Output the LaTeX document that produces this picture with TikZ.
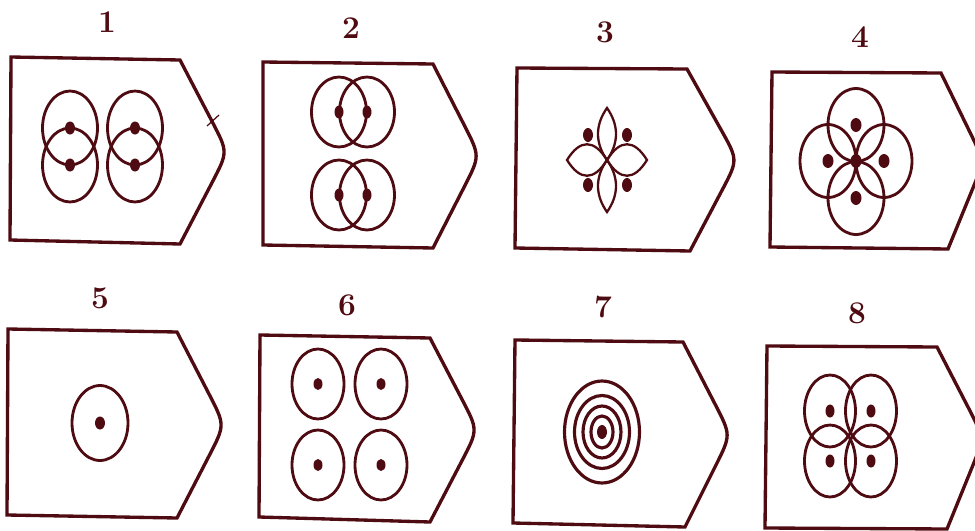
\documentclass[tikz,border=0pt]{standalone}
\usetikzlibrary{calc}
\definecolor{ink}{HTML}{4E0B11}
\tikzset{card/.style={draw=ink,line width=1.9pt,line join=miter},
ring/.style={draw=ink,line width=1.6pt},
petal/.style={draw=ink,line width=1.3pt},
pip/.style={fill=ink},
num/.style={font=\fontsize{18}{18}\selectfont\bfseries,text=ink}}

\begin{document}
\begin{tikzpicture}[x=0.02cm,y=-0.02cm]
\useasboundingbox (0,0) rectangle (975,531);
% numbers over the cards
\node[num] (n1) at (107,22) {1};
\node[num] (n2) at (351,28) {2};
\node[num] (n3) at (605,32) {3};
\node[num] (n4) at (860,37) {4};
\node[num] (n5) at (100,298) {5};
\node[num] (n6) at (347,305) {6};
\node[num] (n7) at (603,307) {7};
\node[num] (n8) at (857,313) {8};

% card outlines, top row
\draw[card] (11,57) -- (180,60) -- ($(228,152)!0.33!(180,60)$) .. controls (228,152) .. ($(228,152)!0.33!(180,244)$) -- (180,244) -- (10,240) -- cycle;
\draw[card] (263,62) -- (433,64) -- ($(480,156)!0.33!(433,64)$) .. controls (480,156) .. ($(480,156)!0.33!(433,248)$) -- (433,248) -- (263,245) -- cycle;
\draw[card] (517,68) -- (687,69) -- ($(738,160)!0.33!(687,69)$) .. controls (738,160) .. ($(738,160)!0.33!(690,251)$) -- (690,251) -- (515,248) -- cycle;
\draw[card] (772,72) -- (941,73) -- ($(984,161)!0.33!(941,73)$) .. controls (984,161) .. ($(984,161)!0.33!(948,249)$) -- (948,249) -- (770,247) -- cycle;
% card outlines, bottom row
\draw[card] (8,329) -- (177,332) -- ($(225,425)!0.33!(177,332)$) .. controls (225,425) .. ($(225,425)!0.33!(177,518)$) -- (177,518) -- (7,515) -- cycle;
\draw[card] (260,335) -- (430,338) -- ($(478,430)!0.33!(430,338)$) .. controls (478,430) .. ($(478,430)!0.33!(430,522)$) -- (430,522) -- (259,517) -- cycle;
\draw[card] (515,340) -- (683,342) -- ($(731,435)!0.33!(683,342)$) .. controls (731,435) .. ($(731,435)!0.33!(685,527)$) -- (685,527) -- (513,523) -- cycle;
\draw[card] (767,346) -- (937,347) -- ($(984,438)!0.33!(937,347)$) .. controls (984,438) .. ($(984,438)!0.33!(947,529)$) -- (947,529) -- (765,528) -- cycle;
\draw[ink,line width=0.7pt] (207,126) -- (219,115);

% 1
\foreach \x in {70,135}
  \foreach \y in {128,165} {
    \draw[ring] (\x,\y) ellipse [x radius=0.55cm,y radius=0.74cm];
    \fill[pip] (\x,\y) ellipse [x radius=0.1cm,y radius=0.13cm];
  }
% 2
\foreach \x in {339,367}
  \foreach \y in {112,195} {
    \draw[ring] (\x,\y) ellipse [x radius=0.55cm,y radius=0.7cm];
    \fill[pip] (\x,\y) ellipse [x radius=0.09cm,y radius=0.13cm];
  }
% 3
\draw[petal] (607,160) .. controls (619,143) and (619,125) .. (607,108) .. controls (595,125) and (595,143) .. (607,160);
\draw[petal] (607,160) .. controls (619,177) and (619,195) .. (607,212) .. controls (595,195) and (595,177) .. (607,160);
\draw[petal] (607,160) .. controls (594,139) and (580,139) .. (567,160) .. controls (580,181) and (594,181) .. (607,160);
\draw[petal] (607,160) .. controls (620,139) and (634,139) .. (647,160) .. controls (634,181) and (620,181) .. (607,160);
\foreach \x in {588,627}
  \foreach \y in {135,185}
    \fill[pip] (\x,\y) ellipse [x radius=0.1cm,y radius=0.14cm];
% 4
\foreach \p in {(856,125),(828,161),(884,161),(856,198)}
  \draw[ring] \p ellipse [x radius=0.56cm,y radius=0.73cm];
\foreach \p in {(856,125),(828,161),(856,161),(884,161),(856,198)}
  \fill[pip] \p ellipse [x radius=0.11cm,y radius=0.14cm];
% 5
\draw[ring] (100,423) ellipse [x radius=0.56cm,y radius=0.75cm];
\fill[pip] (100,423) ellipse [x radius=0.1cm,y radius=0.13cm];
% 6
\foreach \x in {318,381}
  \foreach \y in {384,465} {
    \draw[ring] (\x,\y) ellipse [x radius=0.52cm,y radius=0.7cm];
    \fill[pip] (\x,\y) ellipse [x radius=0.09cm,y radius=0.12cm];
  }
% 7
\foreach \a/\b in {0.75/1.02,0.55/0.73,0.38/0.52,0.22/0.32}
  \draw[ring,line width=1.8pt] (602,432) ellipse [x radius=\a cm,y radius=\b cm];
\fill[pip] (602,432) ellipse [x radius=0.1cm,y radius=0.14cm];
% 8
\foreach \x in {830,871}
  \foreach \y in {411,461} {
    \draw[ring] (\x,\y) ellipse [x radius=0.51cm,y radius=0.72cm];
    \fill[pip] (\x,\y) ellipse [x radius=0.09cm,y radius=0.13cm];
  }
\end{tikzpicture}
\end{document}
